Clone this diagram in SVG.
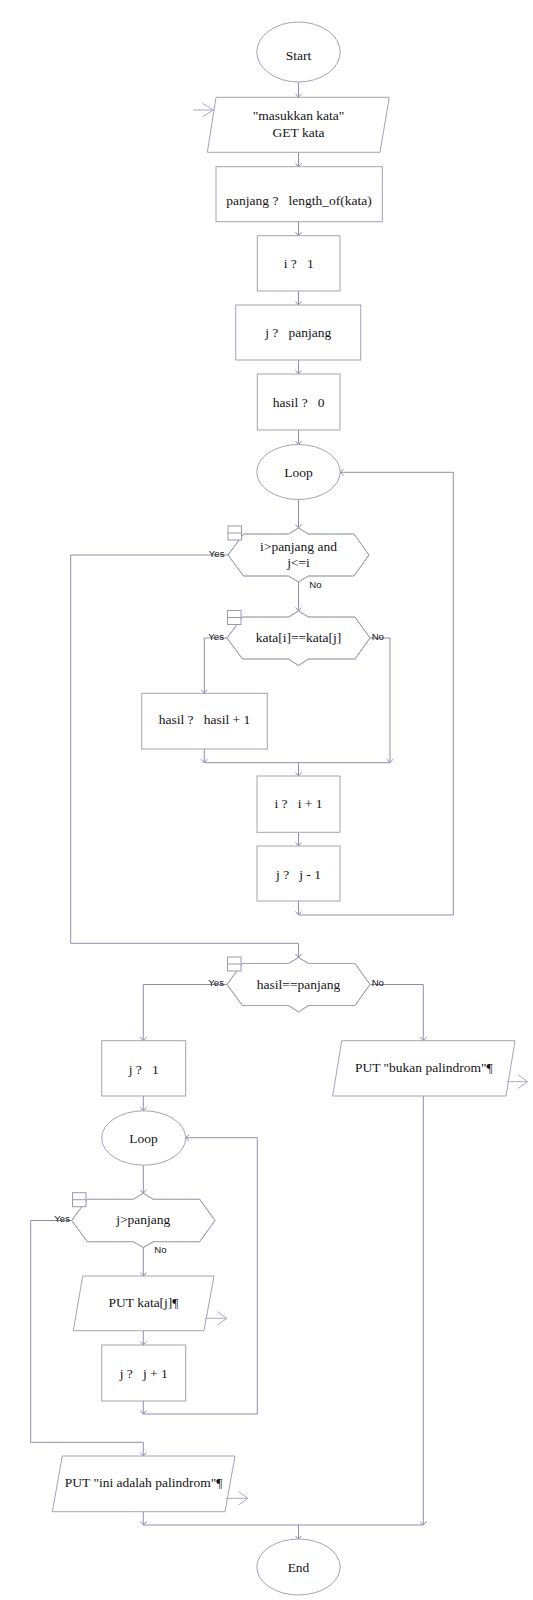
<svg xmlns="http://www.w3.org/2000/svg" width="533" height="1600" viewBox="0 0 533 1600">
<defs>
<style>
.sh{fill:#fff;stroke:#a3a3b6;stroke-width:1}
.dg{fill:none;stroke:#a3a3b6;stroke-width:1}
.dh{fill:none;stroke:#a3a3b6;stroke-width:1;stroke-dasharray:2,1}
.ic{fill:#fff;stroke:#9a9ab0;stroke-width:1}
.t{font-family:"Liberation Serif","Times New Roman",serif;font-size:13.5px;fill:#141414;text-anchor:middle;white-space:pre}
.l{font-family:"Liberation Sans",Arial,sans-serif;font-size:9.6px;fill:#141414}
.c{fill:none;stroke:#8e8eac;stroke-width:1}
.io{fill:none;stroke:#a8a8c4;stroke-width:1}
</style>
<marker id="a" markerUnits="userSpaceOnUse" markerWidth="10" markerHeight="10" refX="5" refY="5" orient="auto" viewBox="0 0 10 10">
<path d="M1.5,2 L5,5 L1.5,8" fill="none" stroke="#8e8eac" stroke-width="1"/>
</marker>
</defs>
<rect width="533" height="1600" fill="#fff"/>

<g id="connectors">
<path class="c" marker-end="url(#a)" d="M298.5,82 V97.3"/>
<path class="c" marker-end="url(#a)" d="M298.5,152.3 V166.7"/>
<path class="c" marker-end="url(#a)" d="M298.5,221.7 V235.7"/>
<path class="c" marker-end="url(#a)" d="M298.5,291 V305"/>
<path class="c" marker-end="url(#a)" d="M298.5,360 V374"/>
<path class="c" marker-end="url(#a)" d="M298.5,430 V444.5"/>
<path class="c" marker-end="url(#a)" d="M298.5,499.5 V528"/>
<path class="c" marker-end="url(#a)" d="M228,555 H70.7 V943.3 H298.5 V957.5"/>
<path class="c" marker-end="url(#a)" d="M298.5,582 V611"/>
<path class="c" marker-end="url(#a)" d="M227,638 H204.3 V693.3"/>
<path class="c" marker-end="url(#a)" d="M370,638 H390 V762.7"/>
<path class="c" marker-end="url(#a)" d="M204.3,749 V762.7"/>
<path class="c" d="M204.3,762.7 H390"/>
<path class="c" marker-end="url(#a)" d="M298.5,762.7 V776"/>
<path class="c" marker-end="url(#a)" d="M298.5,832.3 V846"/>
<path class="c" marker-end="url(#a)" d="M298.5,901 V915"/>
<path class="c" marker-end="url(#a)" d="M298.5,915 H453.3 V472.3 H340.2"/>
<path class="c" marker-end="url(#a)" d="M227,984.5 H143.3 V1040.7"/>
<path class="c" marker-end="url(#a)" d="M370,984.5 H423.3 V1040.7"/>
<path class="c" marker-end="url(#a)" d="M143.3,1096 V1110.7"/>
<path class="c" marker-end="url(#a)" d="M143.3,1165 V1193.3"/>
<path class="c" marker-end="url(#a)" d="M71.7,1220.5 H30.7 V1442.3 H143.3 V1456"/>
<path class="c" marker-end="url(#a)" d="M143.3,1247.5 V1276"/>
<path class="c" marker-end="url(#a)" d="M143.3,1331 V1345"/>
<path class="c" marker-end="url(#a)" d="M143.3,1401 V1414"/>
<path class="c" marker-end="url(#a)" d="M143.3,1414 H257.3 V1137.7 H185.7"/>
<path class="c" marker-end="url(#a)" d="M143.3,1511.7 V1525"/>
<path class="c" marker-end="url(#a)" d="M423.3,1096 V1525"/>
<path class="c" d="M143.3,1525 H423.3"/>
<path class="c" marker-end="url(#a)" d="M298.5,1525 V1539.3"/>
</g>

<g id="start">
<ellipse class="sh" cx="298.5" cy="52" rx="41.7" ry="30"/>
<text class="t" x="298.5" y="60.3">Start</text>
</g>

<g id="input">
<polygon class="sh" points="216,97.3 389.3,97.3 380,152.3 207.3,152.3"/>
<path class="io" d="M193,110 H213.3 M202.8,103.4 L213.3,110 L202.8,116.6"/>
<text class="t" x="298.5" y="119.7">"masukkan kata"</text>
<text class="t" x="298.5" y="136.5">GET kata</text>
</g>

<g id="panjang">
<rect class="sh" x="216" y="166.7" width="166.3" height="55"/>
<text class="t" x="299" y="205" xml:space="preserve">panjang ?   length_of(kata)</text>
</g>

<g id="i1">
<rect class="sh" x="257.3" y="235.7" width="82.7" height="55.3"/>
<text class="t" x="298.7" y="268.3" xml:space="preserve">i ?   1</text>
</g>

<g id="jpanjang">
<rect class="sh" x="235.7" y="305" width="125" height="55"/>
<text class="t" x="298.2" y="337.3" xml:space="preserve">j ?   panjang</text>
</g>

<g id="hasil0">
<rect class="sh" x="257.3" y="374" width="82.7" height="56"/>
<text class="t" x="298.7" y="407.3" xml:space="preserve">hasil ?   0</text>
</g>

<g id="loop1">
<ellipse class="sh" cx="298.5" cy="472" rx="41.7" ry="27.5"/>
<text class="t" x="298.5" y="477.3">Loop</text>
</g>

<g id="cond1">
<path class="sh" stroke="none" d="M243.5,534 H288.5 L298.5,528 L308.5,534 H354 L369,555 L354,576 H308.5 L298.5,582 L288.5,576 H243.5 L228,555 Z"/>
<path class="dg" d="M243.5,534 L228,555 L243.5,576 M354,534 L369,555 L354,576 M288.5,534 L298.5,528 L308.5,534 M288.5,576 L298.5,582 L308.5,576"/>
<path class="dh" d="M243.5,534 H288.5 M308.5,534 H354 M243.5,576 H288.5 M308.5,576 H354"/>
<rect class="ic" x="228" y="526" width="13.5" height="14"/>
<path class="ic" d="M228,533 H241.5"/>
<text class="t" x="298.5" y="550.7">i&gt;panjang and</text>
<text class="t" x="298.5" y="566.5">j&lt;=i</text>
<text class="l" x="224.5" y="556.5" text-anchor="end">Yes</text>
<text class="l" x="309.3" y="587.5">No</text>
</g>

<g id="cond2">
<path class="sh" stroke="none" d="M242.5,617 H288.5 L298.5,611 L308.5,617 H355 L370,638 L355,659 H308.5 L298.5,665.5 L288.5,659 H242.5 L227,638 Z"/>
<path class="dg" d="M242.5,617 L227,638 L242.5,659 M355,617 L370,638 L355,659 M288.5,617 L298.5,611 L308.5,617 M288.5,659 L298.5,665.5 L308.5,659"/>
<path class="dh" d="M242.5,617 H288.5 M308.5,617 H355 M242.5,659 H288.5 M308.5,659 H355"/>
<rect class="ic" x="227.5" y="610.5" width="13.5" height="14"/>
<path class="ic" d="M227.5,617.5 H241"/>
<text class="t" x="298.5" y="642.3">kata[i]==kata[j]</text>
<text class="l" x="224" y="639.5" text-anchor="end">Yes</text>
<text class="l" x="371.7" y="639.5">No</text>
</g>

<g id="hasilplus">
<rect class="sh" x="141.7" y="693.3" width="125.6" height="55.7"/>
<text class="t" x="204.5" y="724" xml:space="preserve">hasil ?   hasil + 1</text>
</g>

<g id="iplus">
<rect class="sh" x="257" y="776" width="83" height="56.3"/>
<text class="t" x="298.5" y="808.3" xml:space="preserve">i ?   i + 1</text>
</g>

<g id="jminus">
<rect class="sh" x="257" y="846" width="83" height="55"/>
<text class="t" x="298.5" y="879.3" xml:space="preserve">j ?   j - 1</text>
</g>

<g id="cond3">
<path class="sh" stroke="none" d="M242.5,963.5 H288.5 L298.5,957.5 L308.5,963.5 H355 L370,984.5 L355,1005.5 H308.5 L298.5,1012 L288.5,1005.5 H242.5 L227,984.5 Z"/>
<path class="dg" d="M242.5,963.5 L227,984.5 L242.5,1005.5 M355,963.5 L370,984.5 L355,1005.5 M288.5,963.5 L298.5,957.5 L308.5,963.5 M288.5,1005.5 L298.5,1012 L308.5,1005.5"/>
<path class="dh" d="M242.5,963.5 H288.5 M308.5,963.5 H355 M242.5,1005.5 H288.5 M308.5,1005.5 H355"/>
<rect class="ic" x="227.5" y="957" width="13.5" height="14"/>
<path class="ic" d="M227.5,964 H241"/>
<text class="t" x="298.5" y="989">hasil==panjang</text>
<text class="l" x="224" y="986" text-anchor="end">Yes</text>
<text class="l" x="371.7" y="986">No</text>
</g>

<g id="j1">
<rect class="sh" x="101.7" y="1040.7" width="84" height="55.3"/>
<text class="t" x="143.7" y="1074" xml:space="preserve">j ?   1</text>
</g>

<g id="bukan">
<polygon class="sh" points="341.7,1040.7 515,1040.7 506,1096 332.7,1096"/>
<path class="io" d="M506.7,1081.7 H527.5 M518.2,1075 L527.5,1081.7 L518.2,1088.4"/>
<text class="t" x="423.8" y="1071.7">PUT "bukan palindrom"¶</text>
</g>

<g id="loop2">
<ellipse class="sh" cx="143.7" cy="1138" rx="42" ry="27.2"/>
<text class="t" x="143.5" y="1142.7">Loop</text>
</g>

<g id="cond4">
<path class="sh" stroke="none" d="M87.3,1199.3 H133.3 L143.3,1193.3 L153.3,1199.3 H199.7 L215,1220.5 L199.7,1241.7 H153.3 L143.3,1247.5 L133.3,1241.7 H87.3 L71.7,1220.5 Z"/>
<path class="dg" d="M87.3,1199.3 L71.7,1220.5 L87.3,1241.7 M199.7,1199.3 L215,1220.5 L199.7,1241.7 M133.3,1199.3 L143.3,1193.3 L153.3,1199.3 M133.3,1241.7 L143.3,1247.5 L153.3,1241.7"/>
<path class="dh" d="M87.3,1199.3 H133.3 M153.3,1199.3 H199.7 M87.3,1241.7 H133.3 M153.3,1241.7 H199.7"/>
<rect class="ic" x="72.5" y="1192.7" width="13.5" height="14"/>
<path class="ic" d="M72.5,1199.7 H86"/>
<text class="t" x="143.3" y="1224.3">j&gt;panjang</text>
<text class="l" x="70" y="1221.7" text-anchor="end">Yes</text>
<text class="l" x="154.3" y="1252.7">No</text>
</g>

<g id="putkata">
<polygon class="sh" points="82.7,1276 214,1276 204,1330.7 73.3,1330.7"/>
<path class="io" d="M205,1318.3 H226.8 M217.5,1311.6 L226.8,1318.3 L217.5,1325"/>
<text class="t" x="143.5" y="1307">PUT kata[j]¶</text>
</g>

<g id="jplus">
<rect class="sh" x="101.7" y="1345" width="84" height="56"/>
<text class="t" x="143.7" y="1378.3" xml:space="preserve">j ?   j + 1</text>
</g>

<g id="putini">
<polygon class="sh" points="62.3,1456 235,1456 225,1511.7 52.3,1511.7"/>
<path class="io" d="M226,1498.3 H247.8 M238.5,1491.6 L247.8,1498.3 L238.5,1505"/>
<text class="t" x="143.6" y="1487.3">PUT "ini adalah palindrom"¶</text>
</g>

<g id="end">
<ellipse class="sh" cx="298.5" cy="1567" rx="41.7" ry="28"/>
<text class="t" x="298.5" y="1572.3">End</text>
</g>
</svg>
